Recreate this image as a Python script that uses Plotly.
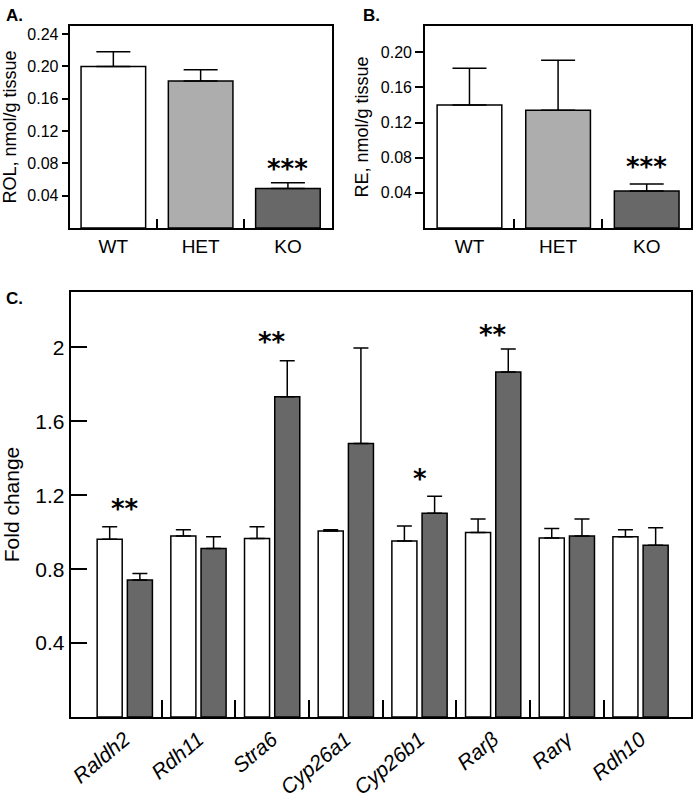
import plotly.graph_objects as go

# ---------------- data ----------------
genotypes = ["WT", "HET", "KO"]
rol_values = [0.200, 0.182, 0.049]
rol_errors = [0.018, 0.014, 0.007]
re_values = [0.140, 0.134, 0.042]
re_errors = [0.042, 0.057, 0.008]
geno_colors = ["#ffffff", "#adadad", "#686868"]
rol_ticks = [0.04, 0.08, 0.12, 0.16, 0.20, 0.24]
re_ticks = [0.04, 0.08, 0.12, 0.16, 0.20]
rol_star = ["", "", "***"]
rol_star_y = [0, 0, 0.0805]
re_star = ["", "", "***"]
re_star_y = [0, 0, 0.0762]

genes = ["Raldh2", "Rdh11", "Stra6", "Cyp26a1", "Cyp26b1", "Rarβ", "Rarγ", "Rdh10"]
wt_fold = [0.962, 0.979, 0.966, 1.006, 0.953, 0.998, 0.969, 0.976]
wt_fold_err = [0.067, 0.034, 0.063, 0.007, 0.081, 0.074, 0.051, 0.037]
ko_fold = [0.742, 0.912, 1.733, 1.480, 1.103, 1.867, 0.980, 0.930]
ko_fold_err = [0.034, 0.063, 0.195, 0.517, 0.092, 0.124, 0.091, 0.094]
fold_star = ["**", "", "**", "", "*", "**", "", ""]
fold_star_y = [1.16, 0, 2.06, 0, 1.323, 2.10, 0, 0]
fold_ticks = [0.4, 0.8, 1.2, 1.6, 2.0]
fold_ticktext = ["0.4", "0.8", "1.2", "1.6", "2"]

# ---------------- figure ----------------
W, H = 693, 804
FONT = "Liberation Sans, Arial, sans-serif"
STAR_FONT = "DejaVu Sans, sans-serif"


def px_x(a, b):
    return [a / W, b / W]


def px_y(top, bottom):
    return [1 - bottom / H, 1 - top / H]


fig = go.Figure()
gx = list(range(len(genotypes)))

fig.add_trace(go.Bar(
    x=gx, y=rol_values, width=0.74,
    marker=dict(color=geno_colors, line=dict(color="black", width=1.5)),
    error_y=dict(type="data", array=rol_errors, arrayminus=[0] * 3, symmetric=False,
                 color="black", thickness=1.5, width=17),
    xaxis="x", yaxis="y", showlegend=False))

fig.add_trace(go.Bar(
    x=gx, y=re_values, width=0.73,
    marker=dict(color=geno_colors, line=dict(color="black", width=1.5)),
    error_y=dict(type="data", array=re_errors, arrayminus=[0] * 3, symmetric=False,
                 color="black", thickness=1.5, width=17),
    xaxis="x2", yaxis="y2", showlegend=False))

cx = list(range(len(genes)))
fig.add_trace(go.Bar(
    x=cx, y=wt_fold, width=0.34, offset=-0.375,
    marker=dict(color="#ffffff", line=dict(color="black", width=1.5)),
    error_y=dict(type="data", array=wt_fold_err, arrayminus=[0] * 8, symmetric=False,
                 color="black", thickness=1.5, width=7.5),
    xaxis="x3", yaxis="y3", showlegend=False))
fig.add_trace(go.Bar(
    x=cx, y=ko_fold, width=0.34, offset=0.035,
    marker=dict(color="#686868", line=dict(color="black", width=1.5)),
    error_y=dict(type="data", array=ko_fold_err, arrayminus=[0] * 8, symmetric=False,
                 color="black", thickness=1.5, width=7.5),
    xaxis="x3", yaxis="y3", showlegend=False))

annotations = []
star_font = dict(family=STAR_FONT, size=26, color="black")
for i, (s, yv) in enumerate(zip(rol_star, rol_star_y)):
    if s:
        annotations.append(dict(x=i, y=yv, xref="x", yref="y", text="<b>" + s + "</b>", showarrow=False,
                                font=star_font, yshift=-6))
for i, (s, yv) in enumerate(zip(re_star, re_star_y)):
    if s:
        annotations.append(dict(x=i, y=yv, xref="x2", yref="y2", text="<b>" + s + "</b>", showarrow=False,
                                font=star_font, yshift=-6))
for i, (s, yv) in enumerate(zip(fold_star, fold_star_y)):
    if s:
        annotations.append(dict(x=i, y=yv, xref="x3", yref="y3", text="<b>" + s + "</b>", showarrow=False,
                                font=star_font, yshift=-6))

for lab, xp, yp in [("A.", 2, 4), ("B.", 361, 4), ("C.", 2, 287)]:
    annotations.append(dict(x=xp / W, y=1 - yp / H, xref="paper", yref="paper", text="<b>" + lab + "</b>",
                            showarrow=False, xanchor="left", yanchor="top",
                            font=dict(family=FONT, size=17, color="black")))

axis_common = dict(showline=True, linecolor="black", linewidth=2, mirror=True,
                   showgrid=False, zeroline=False)

fig.update_layout(
    width=W, height=H,
    margin=dict(l=0, r=0, t=0, b=0),
    paper_bgcolor="white", plot_bgcolor="white",
    barmode="overlay",
    font=dict(family=FONT, color="black"),
    annotations=annotations,
    xaxis=dict(domain=px_x(68, 331), anchor="y", range=[-0.5, 2.5],
               tickmode="array", tickvals=gx, ticktext=genotypes, ticks="",
               tickfont=dict(size=19),
               minor=dict(tickmode="array", tickvals=[0.5, 1.5], ticks="inside", ticklen=9,
                          tickwidth=1.5, tickcolor="black", showgrid=False),
               **axis_common),
    yaxis=dict(domain=px_y(26, 228), anchor="x", range=[0, 0.25],
               tickmode="array", tickvals=rol_ticks, tickformat=".2f",
               ticks="outside", ticklen=6, tickwidth=1.5, tickcolor="black",
               tickfont=dict(size=16),
               title=dict(text="ROL, nmol/g tissue", font=dict(size=18), standoff=8),
               **axis_common),
    xaxis2=dict(domain=px_x(425, 692), anchor="y2", range=[-0.5, 2.5],
                tickmode="array", tickvals=gx, ticktext=genotypes, ticks="",
                tickfont=dict(size=19),
                minor=dict(tickmode="array", tickvals=[0.5, 1.5], ticks="inside", ticklen=9,
                           tickwidth=1.5, tickcolor="black", showgrid=False),
                **axis_common),
    yaxis2=dict(domain=px_y(26, 228), anchor="x2", range=[0, 0.23],
                tickmode="array", tickvals=re_ticks, tickformat=".2f",
                ticks="outside", ticklen=8, tickwidth=1.5, tickcolor="black",
                tickfont=dict(size=16),
                title=dict(text="RE, nmol/g tissue", font=dict(size=18), standoff=8),
                **axis_common),
    xaxis3=dict(domain=px_x(69, 692), anchor="y3", range=[-0.734, 7.685],
                tickmode="array", tickvals=cx, ticktext=["<i>" + g + "</i>" for g in genes],
                ticks="", tickangle=-40, tickfont=dict(size=21),
                minor=dict(tickmode="array", tickvals=[i + 0.5 for i in range(7)], ticks="inside",
                           ticklen=17, tickwidth=1.5, tickcolor="black", showgrid=False),
                **axis_common),
    yaxis3=dict(domain=px_y(292, 717), anchor="x3", range=[0, 2.3],
                tickmode="array", tickvals=fold_ticks, ticktext=fold_ticktext,
                ticks="inside", ticklen=16, tickwidth=1.5, tickcolor="black",
                tickfont=dict(size=21),
                title=dict(text="Fold change", font=dict(size=21), standoff=10),
                **axis_common),
)

fig.write_html("out.html", config={"displayModeBar": False},
               post_script="document.body.style.margin='0px';document.body.style.padding='0px';")
